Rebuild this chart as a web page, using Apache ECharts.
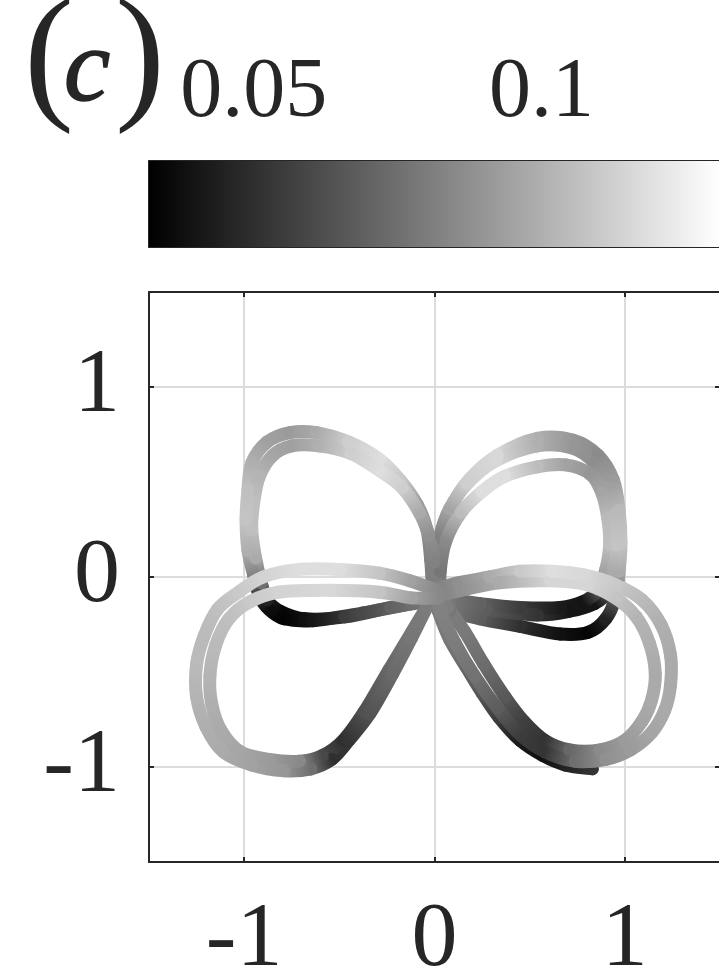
<!DOCTYPE html>
<html>
<head>
<meta charset="utf-8">
<title>(c)</title>
<script src="https://cdn.jsdelivr.net/npm/echarts@6.0.0/dist/echarts.min.js"></script>
<style>
  html, body { margin: 0; padding: 0; background: #ffffff; }
  #chart { width: 719px; height: 976px; }
</style>
</head>
<body>
<div id="chart"></div>
<script>
// Trajectory passes: each point is [x, y, colour value]
var lowRight0 = [[0.83,-1.01,0.052],[0.69,-0.99,0.045],[0.57,-0.94,0.038],[0.45,-0.86,0.042],[0.34,-0.74,0.055],[0.25,-0.61,0.065],[0.17,-0.48,0.072],[0.08,-0.33,0.078],[0.02,-0.18,0.080],[-0.01,-0.07,0.082]];
var upLeft1 = [[-0.01,-0.07,0.080],[-0.02,0.09,0.082],[-0.04,0.25,0.086],[-0.09,0.38,0.092],[-0.18,0.51,0.110],[-0.29,0.62,0.118],[-0.45,0.71,0.112],[-0.62,0.76,0.098],[-0.76,0.76,0.092],[-0.88,0.71,0.094],[-0.96,0.60,0.100],[-0.98,0.46,0.106],[-0.99,0.30,0.108],[-0.98,0.14,0.100],[-0.95,0.01,0.082],[-0.92,-0.10,0.052],[-0.87,-0.17,0.036],[-0.79,-0.22,0.033],[-0.64,-0.23,0.040],[-0.38,-0.19,0.060],[-0.12,-0.14,0.075],[0.01,-0.11,0.080]];
var lowRight1 = [[0.01,-0.06,0.082],[0.13,-0.03,0.088],[0.29,0.00,0.098],[0.45,0.03,0.110],[0.62,0.03,0.118],[0.79,0.01,0.116],[0.95,-0.04,0.110],[1.09,-0.12,0.104],[1.19,-0.25,0.100],[1.24,-0.41,0.098],[1.24,-0.57,0.098],[1.21,-0.70,0.098],[1.14,-0.82,0.096],[1.03,-0.91,0.092],[0.90,-0.96,0.088],[0.74,-0.97,0.075],[0.58,-0.92,0.052],[0.45,-0.83,0.055],[0.33,-0.69,0.068],[0.21,-0.52,0.076],[0.11,-0.35,0.080],[0.04,-0.20,0.082],[0.01,-0.09,0.082]];
var upLeft2 = [[0.01,-0.09,0.080],[0.00,0.08,0.082],[-0.03,0.22,0.088],[-0.08,0.34,0.098],[-0.17,0.47,0.112],[-0.29,0.56,0.118],[-0.44,0.65,0.112],[-0.61,0.69,0.100],[-0.75,0.69,0.094],[-0.85,0.64,0.096],[-0.92,0.53,0.102],[-0.95,0.39,0.106],[-0.96,0.25,0.106],[-0.94,0.10,0.098],[-0.91,-0.03,0.075],[-0.88,-0.12,0.045],[-0.81,-0.18,0.034],[-0.68,-0.22,0.038],[-0.47,-0.21,0.055],[-0.23,-0.16,0.070],[0.01,-0.12,0.080]];
var lowRight2 = [[0.01,-0.10,0.082],[0.14,-0.07,0.088],[0.34,-0.03,0.098],[0.61,-0.02,0.115],[0.80,-0.04,0.115],[0.95,-0.11,0.108],[1.06,-0.21,0.102],[1.13,-0.35,0.100],[1.16,-0.51,0.098],[1.14,-0.65,0.098],[1.09,-0.76,0.096],[1.00,-0.86,0.092],[0.87,-0.91,0.086],[0.71,-0.91,0.072],[0.58,-0.86,0.052],[0.47,-0.76,0.056],[0.37,-0.63,0.066],[0.26,-0.46,0.074],[0.16,-0.29,0.079],[0.07,-0.16,0.081],[0.02,-0.09,0.082]];
var upRight1 = [[0.02,-0.08,0.080],[0.02,0.06,0.078],[0.04,0.21,0.080],[0.09,0.37,0.095],[0.18,0.51,0.112],[0.33,0.64,0.116],[0.54,0.73,0.100],[0.73,0.72,0.090],[0.86,0.64,0.086],[0.94,0.51,0.092],[0.97,0.35,0.104],[0.98,0.18,0.108],[0.97,0.03,0.098],[0.95,-0.11,0.068],[0.90,-0.22,0.045],[0.81,-0.29,0.034],[0.66,-0.30,0.038],[0.45,-0.26,0.050],[0.24,-0.22,0.068],[0.08,-0.18,0.078],[-0.01,-0.15,0.082]];
var lowLeft1 = [[0.01,-0.07,0.085],[-0.13,-0.02,0.095],[-0.29,0.02,0.108],[-0.50,0.04,0.118],[-0.71,0.04,0.118],[-0.90,0.00,0.114],[-1.03,-0.08,0.110],[-1.14,-0.17,0.106],[-1.21,-0.31,0.104],[-1.25,-0.46,0.104],[-1.25,-0.63,0.102],[-1.20,-0.79,0.100],[-1.11,-0.92,0.098],[-0.96,-0.99,0.095],[-0.79,-1.02,0.090],[-0.65,-1.01,0.075],[-0.54,-0.96,0.050],[-0.45,-0.86,0.052],[-0.34,-0.72,0.064],[-0.22,-0.51,0.073],[-0.12,-0.32,0.078],[-0.04,-0.16,0.080],[0.01,-0.08,0.082]];
var upRight2 = [[0.01,-0.10,0.080],[0.01,0.06,0.078],[0.03,0.22,0.082],[0.08,0.36,0.096],[0.17,0.49,0.112],[0.32,0.61,0.116],[0.54,0.69,0.100],[0.72,0.68,0.090],[0.84,0.60,0.087],[0.91,0.47,0.094],[0.95,0.33,0.104],[0.96,0.17,0.108],[0.94,0.03,0.098],[0.91,-0.08,0.065],[0.84,-0.14,0.040],[0.71,-0.18,0.040],[0.54,-0.20,0.052],[0.27,-0.17,0.068],[0.08,-0.14,0.078],[-0.01,-0.12,0.082]];
var lowLeft2 = [[0.02,-0.11,0.085],[-0.12,-0.11,0.095],[-0.29,-0.08,0.108],[-0.55,-0.07,0.116],[-0.82,-0.08,0.114],[-0.97,-0.13,0.110],[-1.08,-0.22,0.106],[-1.15,-0.36,0.104],[-1.18,-0.52,0.102],[-1.17,-0.67,0.100],[-1.12,-0.81,0.098],[-1.02,-0.92,0.096],[-0.87,-0.96,0.092],[-0.71,-0.97,0.085],[-0.59,-0.94,0.060],[-0.48,-0.86,0.050],[-0.37,-0.71,0.063],[-0.24,-0.49,0.072],[-0.12,-0.29,0.078],[-0.03,-0.14,0.080]];
var upRight3 = [[0.03,-0.12,0.080],[0.03,0.03,0.078],[0.06,0.19,0.085],[0.14,0.34,0.105],[0.25,0.45,0.118],[0.37,0.53,0.118],[0.54,0.58,0.105],[0.69,0.59,0.095],[0.82,0.54,0.090],[0.88,0.44,0.096],[0.91,0.31,0.104],[0.92,0.17,0.106],[0.90,0.04,0.096],[0.86,-0.07,0.065],[0.78,-0.13,0.040],[0.66,-0.16,0.042],[0.45,-0.16,0.055],[0.24,-0.14,0.070],[0.05,-0.11,0.080]];

// Axis ticks and colour-bar range
var xTicks = [-1, 0, 1];
var yTicks = [-1, 0, 1];
var barTicks = [0.05, 0.1];
var barRange = [0.0318, 0.131];
var axisRange = [-1.5, 1.5];

var passes = [lowRight0, upLeft1, lowRight1, upLeft2, lowRight2, upRight1, lowLeft1, upRight2, lowLeft2, upRight3];

var INK = '#262626';
var FONT = 'Liberation Serif';
var RIBBON_WIDTH = 13;

// linear grey colormap over the colour-bar range
function grayOf(v) {
  var t = (v - barRange[0]) / (barRange[1] - barRange[0]);
  t = Math.max(0, Math.min(1, t));
  var g = Math.round(t * 255);
  return 'rgb(' + g + ',' + g + ',' + g + ')';
}

// one smooth (Catmull-Rom style) piece of ribbon between point i and i+1
function ribbon(pts) {
  return function (params, api) {
    var i = params.dataIndex;
    var n = pts.length;
    if (i >= n - 1) return null;
    function P(k) {
      k = Math.max(0, Math.min(n - 1, k));
      return api.coord([pts[k][0], pts[k][1]]);
    }
    var p0 = P(i - 1), p1 = P(i), p2 = P(i + 1), p3 = P(i + 2);
    var c1 = [p1[0] + (p2[0] - p0[0]) / 6, p1[1] + (p2[1] - p0[1]) / 6];
    var c2 = [p2[0] - (p3[0] - p1[0]) / 6, p2[1] - (p3[1] - p1[1]) / 6];
    var v1 = pts[i][2], v2 = pts[i + 1][2];
    var grad = new echarts.graphic.LinearGradient(p1[0], p1[1], p2[0] + 0.01, p2[1] + 0.01, [
      { offset: 0, color: grayOf(v1) },
      { offset: 1, color: grayOf(v2) }
    ], true);
    return {
      type: 'bezierCurve',
      shape: { x1: p1[0], y1: p1[1], x2: p2[0], y2: p2[1], cpx1: c1[0], cpy1: c1[1], cpx2: c2[0], cpy2: c2[1] },
      style: { fill: null, stroke: grad, lineWidth: RIBBON_WIDTH, lineCap: 'round', lineJoin: 'round' },
      z2: Math.round((v1 + v2) * 50000)
    };
  };
}

function fmt(v) { return String(+(+v).toFixed(2)); }

var lineStyle = { color: INK, width: 2 };

var series = passes.map(function (pts) {
  return {
    type: 'custom',
    coordinateSystem: 'cartesian2d',
    xAxisIndex: 0,
    yAxisIndex: 0,
    data: pts,
    encode: { x: 0, y: 1 },
    silent: true,
    renderItem: ribbon(pts)
  };
});

// colour bar body
series.push({
  type: 'custom',
  coordinateSystem: 'cartesian2d',
  xAxisIndex: 2,
  yAxisIndex: 2,
  data: [[barRange[0], 0]],
  encode: { x: 0, y: 1 },
  silent: true,
  z: 1,
  renderItem: function (params, api) {
    var a = api.coord([barRange[0], 0]);
    var b = api.coord([barRange[1], 1]);
    return {
      type: 'rect',
      shape: { x: a[0], y: b[1], width: b[0] - a[0], height: a[1] - b[1] },
      style: {
        fill: new echarts.graphic.LinearGradient(0, 0, 1, 0, [
          { offset: 0, color: grayOf(barRange[0]) },
          { offset: 1, color: grayOf(barRange[1]) }
        ])
      }
    };
  }
});

var option = {
  animation: false,
  backgroundColor: '#ffffff',
  graphic: [
    { type: 'text', x: 24, y: 63, style: { text: '(', fontFamily: FONT, fontSize: 150, fill: INK, verticalAlign: 'middle' } },
    { type: 'text', x: 64, y: 73, scaleX: 2, scaleY: 2, style: { text: 'c', fontFamily: FONT, fontStyle: 'italic', fontSize: 52, fill: INK, stroke: INK, lineWidth: 0.8, verticalAlign: 'middle' } },
    { type: 'text', x: 115, y: 63, style: { text: ')', fontFamily: FONT, fontSize: 150, fill: INK, verticalAlign: 'middle' } }
  ],
  grid: [
    { left: 149, top: 292, width: 571, height: 570, outerBoundsMode: 'none', containLabel: false },
    { left: 149, top: 161, width: 571, height: 86, outerBoundsMode: 'none', containLabel: false }
  ],
  xAxis: [
    {
      gridIndex: 0, type: 'value', min: axisRange[0], max: axisRange[1], position: 'bottom',
      axisLine: { show: true, onZero: false, lineStyle: lineStyle },
      axisTick: { show: true, inside: true, length: 5, customValues: xTicks, lineStyle: lineStyle },
      axisLabel: { show: true, customValues: xTicks, margin: 33, fontFamily: FONT, fontSize: 92, color: INK, formatter: fmt },
      splitLine: { show: true, lineStyle: { color: '#dcdcdc', width: 2 } }
    },
    {
      gridIndex: 0, type: 'value', min: axisRange[0], max: axisRange[1], position: 'top',
      axisLine: { show: true, onZero: false, lineStyle: lineStyle },
      axisTick: { show: true, inside: true, length: 5, customValues: xTicks, lineStyle: lineStyle },
      axisLabel: { show: false },
      splitLine: { show: false }
    },
    {
      gridIndex: 1, type: 'value', min: barRange[0], max: barRange[1], position: 'top',
      axisLine: { show: true, onZero: false, lineStyle: lineStyle },
      axisTick: { show: true, inside: true, length: 6, customValues: barTicks, lineStyle: lineStyle },
      axisLabel: { show: true, customValues: barTicks, margin: 25, fontFamily: FONT, fontSize: 84, color: INK, formatter: fmt },
      splitLine: { show: false }
    },
    {
      gridIndex: 1, type: 'value', min: barRange[0], max: barRange[1], position: 'bottom',
      axisLine: { show: true, onZero: false, lineStyle: lineStyle },
      axisTick: { show: false }, axisLabel: { show: false }, splitLine: { show: false }
    }
  ],
  yAxis: [
    {
      gridIndex: 0, type: 'value', min: axisRange[0], max: axisRange[1], position: 'left',
      axisLine: { show: true, onZero: false, lineStyle: lineStyle },
      axisTick: { show: true, inside: true, length: 5, customValues: yTicks, lineStyle: lineStyle },
      axisLabel: { show: true, customValues: yTicks, margin: 29, fontFamily: FONT, fontSize: 92, color: INK, formatter: fmt },
      splitLine: { show: true, lineStyle: { color: '#dcdcdc', width: 2 } }
    },
    {
      gridIndex: 0, type: 'value', min: axisRange[0], max: axisRange[1], position: 'right',
      axisLine: { show: true, onZero: false, lineStyle: lineStyle },
      axisTick: { show: true, inside: true, length: 5, customValues: yTicks, lineStyle: lineStyle },
      axisLabel: { show: false },
      splitLine: { show: false }
    },
    {
      gridIndex: 1, type: 'value', min: 0, max: 1, position: 'left',
      axisLine: { show: true, onZero: false, lineStyle: lineStyle },
      axisTick: { show: false }, axisLabel: { show: false }, splitLine: { show: false }
    },
    {
      gridIndex: 1, type: 'value', min: 0, max: 1, position: 'right',
      axisLine: { show: true, onZero: false, lineStyle: lineStyle },
      axisTick: { show: false }, axisLabel: { show: false }, splitLine: { show: false }
    }
  ],
  series: series
};

var chart = echarts.init(document.getElementById('chart'), null, { renderer: 'canvas' });
chart.setOption(option);
</script>
</body>
</html>
